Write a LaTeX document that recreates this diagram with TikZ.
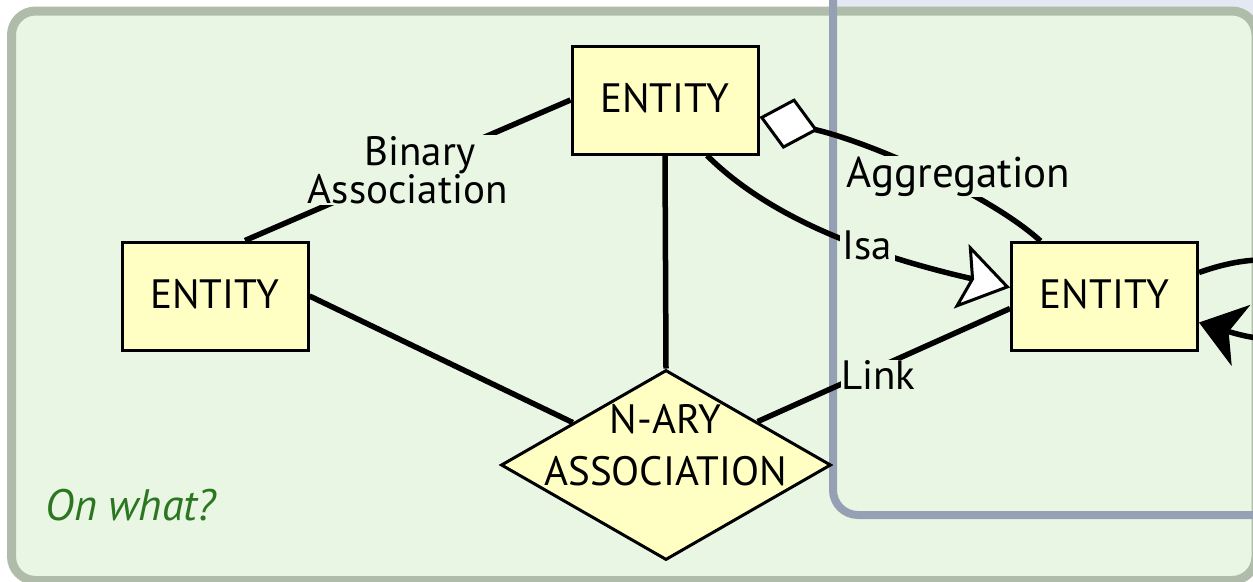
\documentclass[tikz,border=0pt]{standalone}
\usepackage{fontspec}
\setmainfont{PT Sans}
\usetikzlibrary{shapes.geometric,arrows.meta,calc}
\definecolor{panelfill}{RGB}{234,246,228}
\definecolor{panelline}{RGB}{176,188,170}
\definecolor{bluefill}{RGB}{228,232,242}
\definecolor{blueline}{RGB}{150,160,180}
\definecolor{entfill}{RGB}{255,255,196}
\definecolor{ontext}{RGB}{44,118,34}
\begin{document}
\begin{tikzpicture}[x=1pt,y=-1pt,
  entity/.style={draw=black, line width=3pt, fill=entfill, minimum width=186pt, minimum height=108pt, inner sep=0pt, font=\fontsize{41}{44}\selectfont, text depth=5pt},
  assocshape/.style={draw=black, line width=3pt, fill=entfill, shape=diamond, minimum width=330pt, minimum height=190pt, inner sep=0pt},
  conn/.style={line width=5.5pt},
  lbl/.style={fill=panelfill, inner sep=1pt, font=\fontsize{41}{36}\selectfont, align=center},
]
\useasboundingbox (0,0) rectangle (1253,581);
\clip (0,0) rectangle (1253,581);
% backgrounds
\fill[bluefill, rounded corners=25pt] (833,-60) rectangle (1320,515);
\draw[fill=panelfill, draw=panelline, line width=9pt, rounded corners=24pt] (11.5,11) rectangle (1256,580.5);
\draw[blueline, line width=8pt, rounded corners=25pt] (833,-60) rectangle (1320,515);
% nodes
\node[entity] (top) at (665,100) {ENTITY};
\node[entity] (left) at (215,296) {ENTITY};
\node[entity] (R) at (1104.5,296.5) {ENTITY};
\node[assocshape] (assoc) at (666,465) {};
\node[font=\fontsize{41}{52}\selectfont, align=center, inner sep=0pt] (assoctext) at (665.5,445.5) {N-ARY\\ASSOCIATION};
\node[font=\fontsize{44}{44}\selectfont\itshape, text=ontext, inner sep=0pt] (onwhat) at (130.5,505.5) {On what?};
% connectors
\draw[conn] (top.west) -- node[lbl] (binlbl) {\hspace*{24pt}Binary\\Association} ($(left.north)+(30,0)$);
\draw[conn] (top.south) -- (assoc.north);
\draw[conn] (left.east) -- ($(assoc.west)!0.44!(assoc.north)$);
\draw[conn] ($(assoc.north)!0.55!(assoc.east)$) -- ($(R.west)+(0,12)$);
\node[lbl, inner sep=0.5pt] (linklbl) at (878.5,375) {Link};
\draw[conn, -{Stealth[length=50pt, width=66pt, inset=10pt, fill=white, line width=3pt]}]
  ($(top.south)+(42,0)$) .. controls (767,215) and (860,253) .. ($(R.west)+(0,-9)$);
\node[lbl, inner sep=3pt] (isalbl) at (867.5,245) {Isa};
\draw[conn, {Diamond[length=60pt, width=52pt, fill=white, line width=3pt]}-]
  ($(top.east)+(0,17)$) .. controls (870,142) and (990,195) .. ($(R.north)+(-64,0)$);
\node[lbl, font=\fontsize{43}{36}\selectfont] (agglbl) at (958.5,176.5) {Aggregation};
\draw[conn, -{Stealth[length=44pt, width=64pt, inset=13pt, line width=1pt]}]
  ($(R.east)+(0,-24)$) .. controls (1360,215) and (1370,375) .. ($(R.east)+(0,26)$);
\end{tikzpicture}
\end{document}
